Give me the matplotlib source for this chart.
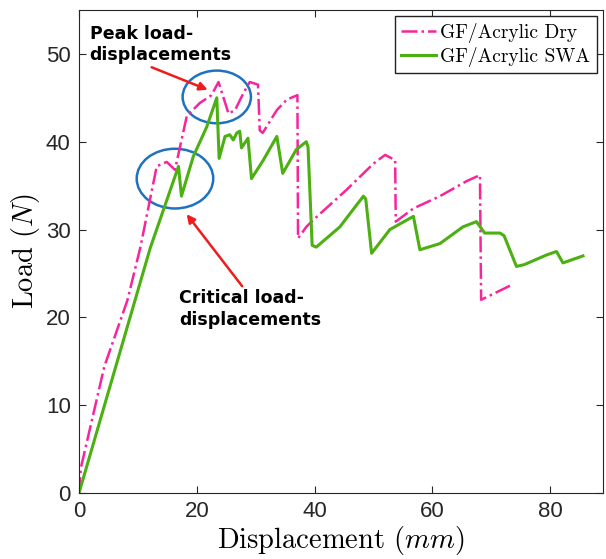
import numpy as np
import matplotlib.pyplot as plt
from matplotlib.patches import Ellipse

plt.rcParams['mathtext.fontset'] = 'cm'

# GF/Acrylic Dry (displacement mm, load N)
dry_x = [0, 0.3, 4.3, 8.2, 10.4, 13.2, 14.9, 16.3, 18.3, 20.5, 22.5, 23.7, 24.5, 25.4,
         26.5, 27.9, 29.0, 30.4, 30.7, 31.2, 33.6, 35.3, 37.1, 37.2, 38.6, 39.8, 45.4,
         50.0, 52.0, 53.7, 53.8, 56.8, 61.3, 65.8, 68.1, 68.3, 73.5]
dry_y = [0, 2.8, 14.4, 21.9, 27.9, 37.2, 37.7, 36.8, 42.9, 44.4, 45.3, 46.8, 45.1, 43.2,
         43.6, 45.5, 46.8, 46.5, 41.3, 41.0, 43.6, 44.8, 45.3, 29.0, 30.3, 31.1, 34.5,
         37.5, 38.5, 37.9, 30.9, 32.4, 33.8, 35.5, 36.2, 22.0, 23.7]

# GF/Acrylic SWA
swa_x = [0, 12.1, 16.9, 17.4, 19.4, 21.7, 23.4, 23.8, 24.8, 25.6, 26.2, 26.8, 27.3, 27.6,
         28.5, 28.7, 29.3, 31.3, 33.6, 34.6, 36.9, 38.6, 38.9, 39.6, 40.3, 44.3, 48.3,
         48.7, 49.7, 52.8, 56.8, 57.9, 61.3, 65.2, 67.5, 68.9, 71.5, 72.2, 74.3, 75.6,
         79.4, 81.1, 82.2, 85.6]
swa_y = [0, 27.9, 37.2, 33.8, 38.3, 41.7, 45.0, 38.1, 40.6, 40.8, 40.2, 41.0, 41.2, 39.3,
         40.2, 40.4, 35.8, 37.9, 40.6, 36.4, 39.1, 40.0, 39.4, 28.2, 28.0, 30.3, 33.8,
         33.5, 27.3, 30.0, 31.5, 27.7, 28.4, 30.3, 30.9, 29.6, 29.6, 29.3, 25.8, 26.0,
         27.1, 27.5, 26.2, 27.0]

fig = plt.figure(figsize=(6.06, 5.59), dpi=100)
ax = fig.add_axes([79 / 606, 66 / 559, 524 / 606, 483 / 559])

ax.plot(dry_x, dry_y, color='#f7259d', ls='-.', lw=1.8, label='GF/Acrylic Dry')
ax.plot(swa_x, swa_y, color='#4caf12', ls='-', lw=2.2, label='GF/Acrylic SWA')

ax.add_patch(Ellipse((23.4, 45.1), 11.6, 6.0, fill=False, ec='#1f72c0', lw=1.8))
ax.add_patch(Ellipse((16.3, 35.8), 13.0, 6.8, fill=False, ec='#1f72c0', lw=1.8))

ax.annotate('', xy=(22.3, 45.8), xytext=(11.9, 48.6),
            arrowprops=dict(arrowstyle='-|>', color='#ee1c1c', lw=1.8, mutation_scale=12))
ax.annotate('', xy=(18.0, 32.0), xytext=(28.0, 23.3),
            arrowprops=dict(arrowstyle='-|>', color='#ee1c1c', lw=1.8, mutation_scale=12))
ax.text(1.8, 53.3, 'Peak load-\ndisplacements', fontsize=12.5, fontweight='bold',
        va='top', ha='left', linespacing=1.25)
ax.text(17.0, 23.2, 'Critical load-\ndisplacements', fontsize=12.5, fontweight='bold',
        va='top', ha='left', linespacing=1.3)

ax.set_xlim(0, 89)
ax.set_ylim(0, 55)
ax.set_xticks([0, 20, 40, 60, 80])
ax.set_yticks([0, 10, 20, 30, 40, 50])
ax.tick_params(direction='in', top=True, right=True, labelsize=16, colors='#262626',
               length=5, pad=6)
for lab in ax.get_xticklabels() + ax.get_yticklabels():
    lab.set_family('Liberation Sans')
for s in ax.spines.values():
    s.set_color('#262626')
ax.set_xlabel('Displacement $(mm)$', fontsize=20.5, family='cmr10', labelpad=1)
ax.set_ylabel('Load $(N)$', fontsize=20.5, family='cmr10', labelpad=3)

leg = ax.legend(loc='upper right', prop={'family': 'cmr10', 'size': 14}, fancybox=False,
                edgecolor='#222222', framealpha=1, borderpad=0.35, handlelength=1.8,
                labelspacing=0.2, borderaxespad=0.3, handletextpad=0.2)
leg.get_frame().set_linewidth(1.0)

fig.savefig('out.png', dpi=100)
